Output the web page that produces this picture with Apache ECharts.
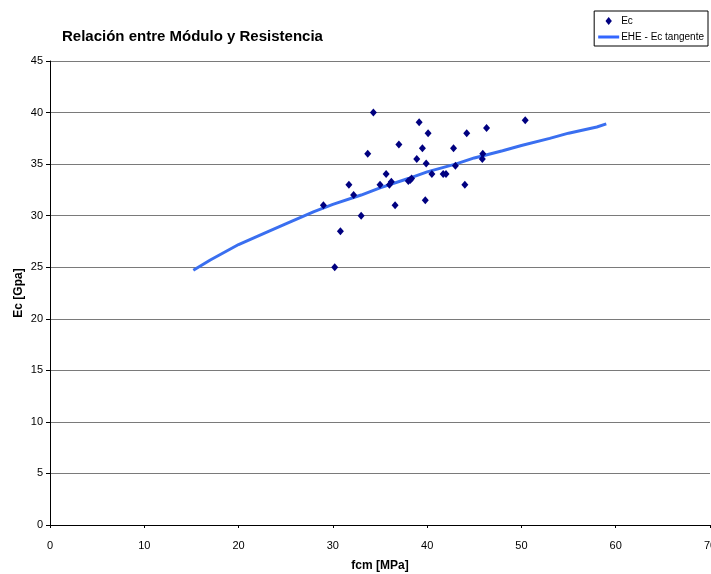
<!DOCTYPE html>
<html>
<head>
<meta charset="utf-8">
<script src="https://cdn.jsdelivr.net/npm/echarts@6/dist/echarts.min.js"></script>
<style>
html,body{margin:0;padding:0;background:#fff;}
#chart{width:711px;height:574px;}
</style>
</head>
<body>
<div id="chart"></div>
<script>
// Scatter data: fcm [MPa] and Ec [GPa]
var ecFcm = [34.3, 39.15, 50.4, 40.1, 44.2, 46.3, 37.0, 33.7, 39.5, 42.8, 38.9, 45.9, 45.85, 39.9, 43.0,
             35.65, 40.5, 41.7, 42.0, 31.7, 35.0, 44.0, 36.0, 36.2, 38.0, 38.2, 38.35, 32.2, 29.0, 36.6,
             39.8, 33.0, 30.8, 30.2];
var ecVal = [40.0, 39.05, 39.25, 38.0, 38.0, 38.5, 36.9, 36.0, 36.55, 36.55, 35.5, 36.0, 35.5, 35.05, 34.85,
             34.05, 34.05, 34.05, 34.05, 33.0, 33.0, 33.0, 33.0, 33.3, 33.35, 33.45, 33.6, 32.0, 31.0, 31.0,
             31.5, 30.0, 28.5, 25.0];
// EHE tangent modulus curve
var eheFcm = [15.2, 17, 20, 23, 25, 28, 30, 33, 35, 38, 40, 43, 45, 48, 50, 53, 55, 58, 59];
var eheVal = [24.7, 25.7, 27.2, 28.4, 29.2, 30.4, 31.1, 32.0, 32.7, 33.6, 34.25, 35.0, 35.6, 36.3, 36.8, 37.5, 38.0, 38.6, 38.9];
var xTicks = [0, 10, 20, 30, 40, 50, 60, 70];
var yTicks = [0, 5, 10, 15, 20, 25, 30, 35, 40, 45];

var scatterData = ecFcm.map(function (x, i) { return [x, ecVal[i]]; });
var lineData = eheFcm.map(function (x, i) { return [x, eheVal[i]]; });

var font = '"Liberation Sans", Arial, sans-serif';
var chart = echarts.init(document.getElementById('chart'));
chart.setOption({
  animation: false,
  backgroundColor: '#fff',
  textStyle: { fontFamily: font },
  title: {
    text: 'Relación entre Módulo y Resistencia',
    left: 57, top: 24,
    textStyle: { fontFamily: font, fontSize: 15, fontWeight: 'bold', color: '#000' }
  },
  legend: {
    right: 3, top: 11,
    orient: 'vertical',
    backgroundColor: '#fff',
    borderColor: '#000',
    borderWidth: 1,
    borderRadius: 0,
    padding: [5, 4, 4, 4],
    itemGap: 6,
    itemWidth: 21,
    itemHeight: 8,
    symbolKeepAspect: true,
    textStyle: { fontFamily: font, fontSize: 10, color: '#000', padding: [0, 0, 0, -3] },
    data: [
      { name: 'Ec', icon: 'path://M4,0 L8,5 L4,10 L0,5 Z', itemStyle: { color: '#000080' } },
      { name: 'EHE - Ec tangente', icon: 'path://M0,0 L21,0 L21,3 L0,3 Z', itemStyle: { color: '#3366ff' } }
    ]
  },
  grid: { left: 50, right: 1, top: 61, bottom: 49, containLabel: false, outerBoundsMode: 'none' },
  xAxis: {
    type: 'value', min: xTicks[0], max: xTicks[xTicks.length - 1], interval: 10,
    name: 'fcm [MPa]', nameLocation: 'middle', nameGap: 35, nameMoveOverlap: false,
    nameTextStyle: { fontFamily: font, fontSize: 12, fontWeight: 'bold', color: '#000' },
    axisLine: { show: true, onZero: false, lineStyle: { color: '#000', width: 1 } },
    axisTick: { show: true, length: 3, inside: false, lineStyle: { color: '#000' } },
    axisLabel: { fontFamily: font, fontSize: 11, color: '#000', margin: 15, showMaxLabel: true },
    splitLine: { show: false }
  },
  yAxis: {
    type: 'value', min: yTicks[0], max: yTicks[yTicks.length - 1], interval: 5,
    name: 'Ec [Gpa]', nameLocation: 'middle', nameGap: 25, nameMoveOverlap: false,
    nameTextStyle: { fontFamily: font, fontSize: 12, fontWeight: 'bold', color: '#000' },
    axisLine: { show: true, lineStyle: { color: '#000', width: 1 } },
    axisTick: { show: true, length: 4, lineStyle: { color: '#000' } },
    axisLabel: { fontFamily: font, fontSize: 11, color: '#000', margin: 7 },
    splitLine: { show: true, lineStyle: { color: '#7a7a7a', width: 1.2 } }
  },
  series: [
    {
      name: 'Ec', type: 'scatter', data: scatterData,
      symbol: 'diamond', symbolSize: [7, 8],
      itemStyle: { color: '#000080', opacity: 1 }, z: 3
    },
    {
      name: 'EHE - Ec tangente', type: 'line', data: lineData,
      showSymbol: false, symbol: 'none', smooth: false,
      lineStyle: { color: '#3a6ff0', width: 3 },
      itemStyle: { color: '#3a6ff0' }, z: 2
    }
  ]
});
</script>
</body>
</html>
